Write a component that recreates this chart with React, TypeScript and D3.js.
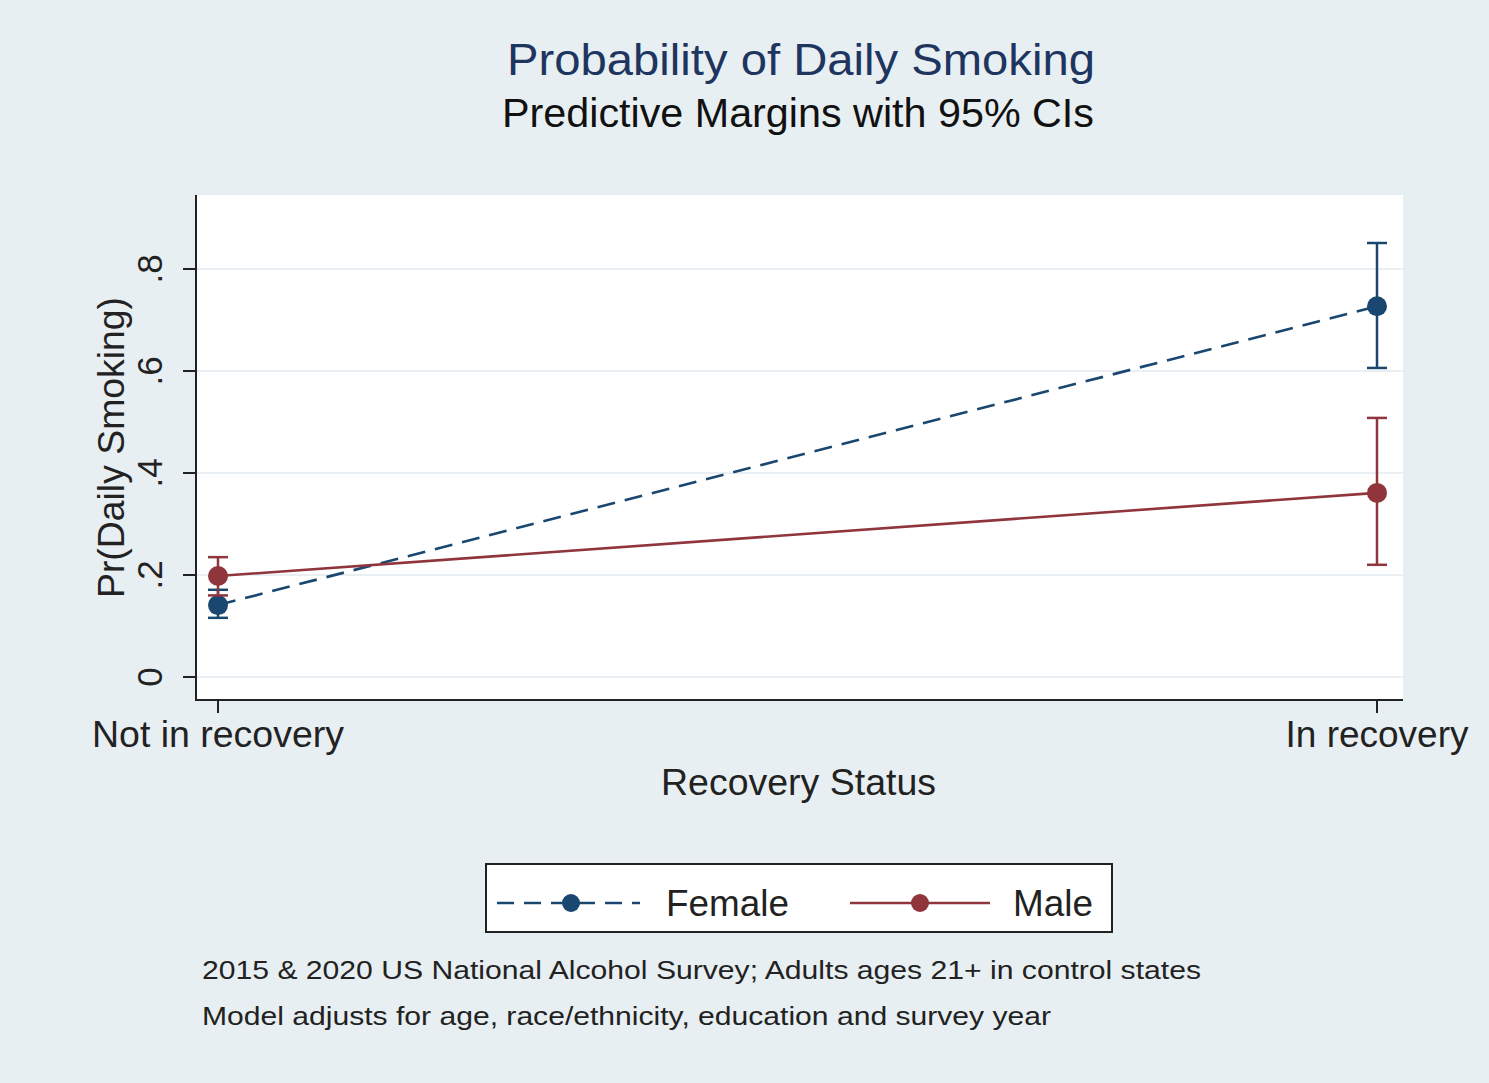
import React from "react";
import * as d3 from "d3";

const categories = ["Not in recovery", "In recovery"];
const yTicks = [0, 0.2, 0.4, 0.6, 0.8];
const yTickLabels = ["0", ".2", ".4", ".6", ".8"];
const femaleMean = [0.141, 0.727];
const femaleLo = [0.116, 0.606];
const femaleHi = [0.171, 0.851];
const maleMean = [0.198, 0.361];
const maleLo = [0.16, 0.22];
const maleHi = [0.235, 0.508];

const W = 1489, H = 1083;
const BG = "#e8eff2";
const NAVY = "#1a476f";
const MAROON = "#90353b";
const FONT = "'Liberation Sans', Arial, Helvetica, sans-serif";
const catLen = [252, 183];

export default function App() {
  const plot = { left: 196, right: 1403, top: 195, bottom: 700 };
  const y = d3.scaleLinear().domain([0, 0.8]).range([677, 269]);
  const x = d3.scalePoint<string>().domain(categories).range([218, 1377]);
  const line = d3.line<[number, number]>().x(d => d[0]).y(d => d[1]);

  const series = [
    { name: "Female", mean: femaleMean, lo: femaleLo, hi: femaleHi, color: NAVY, dash: "18,10" },
    { name: "Male", mean: maleMean, lo: maleLo, hi: maleHi, color: MAROON, dash: null as string | null },
  ];

  return (
    <svg width={W} height={H} style={{ position: "absolute", left: 0, top: 0, display: "block" }} fontFamily={FONT}>
      <rect x={0} y={0} width={W} height={H} fill={BG} />
      <text x={507} y={75} fontSize={44} fill="#1e3560" textLength={588} lengthAdjust="spacingAndGlyphs">Probability of Daily Smoking</text>
      <text x={502} y={127} fontSize={40} fill="#111" textLength={592} lengthAdjust="spacingAndGlyphs">Predictive Margins with 95% CIs</text>

      <rect x={plot.left} y={plot.top} width={plot.right - plot.left} height={plot.bottom - plot.top} fill="#fff" />
      {yTicks.map((t, i) => (
        <g key={i}>
          <line x1={plot.left} x2={plot.right} y1={y(t)} y2={y(t)} stroke="#e9eff2" strokeWidth={2} />
          <line x1={183} x2={plot.left} y1={y(t)} y2={y(t)} stroke="#222" strokeWidth={2} />
          <text transform={`translate(162,${y(t)}) rotate(-90)`} textAnchor="middle" fontSize={35} fill="#222">{yTickLabels[i]}</text>
        </g>
      ))}
      <line x1={plot.left} x2={plot.left} y1={plot.top} y2={plot.bottom + 1} stroke="#222" strokeWidth={2} />
      <line x1={plot.left} x2={plot.right} y1={plot.bottom} y2={plot.bottom} stroke="#222" strokeWidth={2} />
      {categories.map((c, i) => (
        <g key={c}>
          <line x1={x(c)!} x2={x(c)!} y1={plot.bottom} y2={713} stroke="#222" strokeWidth={2} />
          <text x={x(c)! - catLen[i] / 2} y={747} fontSize={36} fill="#222" textLength={catLen[i]} lengthAdjust="spacingAndGlyphs">{c}</text>
        </g>
      ))}
      <text x={661} y={795} fontSize={36} fill="#222" textLength={275} lengthAdjust="spacingAndGlyphs">Recovery Status</text>
      <text transform="translate(124,598) rotate(-90)" fontSize={36} fill="#222" textLength={301} lengthAdjust="spacingAndGlyphs">Pr(Daily Smoking)</text>

      {series.map(s => (
        <g key={s.name}>
          <path d={line(categories.map((c, i) => [x(c)!, y(s.mean[i])]))!} fill="none" stroke={s.color} strokeWidth={2.6} strokeDasharray={s.dash ?? undefined} />
          {categories.map((c, i) => (
            <g key={c}>
              <line x1={x(c)!} x2={x(c)!} y1={y(s.lo[i])} y2={y(s.hi[i])} stroke={s.color} strokeWidth={2.5} />
              <line x1={x(c)! - 10} x2={x(c)! + 10} y1={y(s.lo[i])} y2={y(s.lo[i])} stroke={s.color} strokeWidth={2.5} />
              <line x1={x(c)! - 10} x2={x(c)! + 10} y1={y(s.hi[i])} y2={y(s.hi[i])} stroke={s.color} strokeWidth={2.5} />
              <circle cx={x(c)!} cy={y(s.mean[i])} r={10} fill={s.color} />
            </g>
          ))}
        </g>
      ))}

      <rect x={486} y={864} width={626} height={68} fill="#fff" stroke="#222" strokeWidth={2} />
      <line x1={497} x2={640} y1={903} y2={903} stroke={NAVY} strokeWidth={2.6} strokeDasharray="17,10" />
      <circle cx={571} cy={903} r={9} fill={NAVY} />
      <text x={666} y={916} fontSize={36} fill="#222" textLength={123} lengthAdjust="spacingAndGlyphs">Female</text>
      <line x1={850} x2={990} y1={903} y2={903} stroke={MAROON} strokeWidth={2.4} />
      <circle cx={920} cy={903} r={9} fill={MAROON} />
      <text x={1013} y={916} fontSize={36} fill="#222" textLength={80} lengthAdjust="spacingAndGlyphs">Male</text>

      <text x={202} y={979} fontSize={26} fill="#222" textLength={999} lengthAdjust="spacingAndGlyphs">2015 &amp; 2020 US National Alcohol Survey; Adults ages 21+ in control states</text>
      <text x={202} y={1025} fontSize={26} fill="#222" textLength={849} lengthAdjust="spacingAndGlyphs">Model adjusts for age, race/ethnicity, education and survey year</text>
    </svg>
  );
}
